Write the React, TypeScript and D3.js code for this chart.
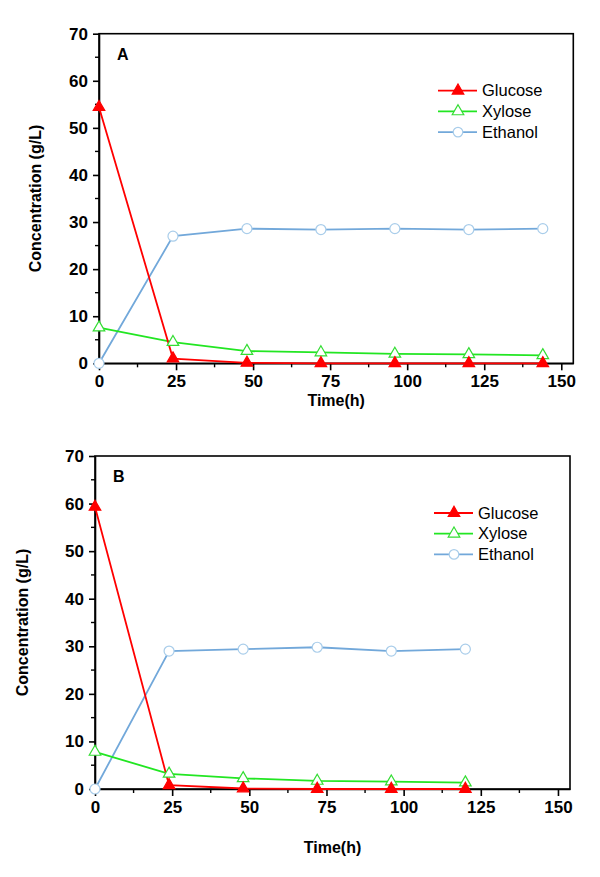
import * as d3 from "d3";
import * as React from "react";

const timeA = [0, 24, 48, 72, 96, 120, 144];
const glucoseA = [54.4, 1.0, 0.1, 0, 0, 0, 0];
const xyloseA = [7.6, 4.5, 2.6, 2.3, 2.0, 1.9, 1.7];
const ethanolA = [0, 27.0, 28.6, 28.4, 28.6, 28.4, 28.6];

const timeB = [0, 24, 48, 72, 96, 120];
const glucoseB = [59.3, 0.8, 0.1, 0, 0, 0];
const xyloseB = [7.8, 3.2, 2.25, 1.7, 1.55, 1.35];
const ethanolB = [0, 29.0, 29.4, 29.8, 29.0, 29.4];

const xTicks = [0, 25, 50, 75, 100, 125, 150];
const yTicks = [0, 10, 20, 30, 40, 50, 60, 70];
const seriesNames = ["Glucose", "Xylose", "Ethanol"];

const FONT = "'Liberation Sans', Arial, sans-serif";

type Box = { left: number; top: number; right: number; bottom: number };

type PanelProps = {
  letter: string;
  box: Box;
  time: number[];
  glucose: number[];
  xylose: number[];
  ethanol: number[];
  xTitleY: number;
  yTitleX: number;
};

function Panel(props: PanelProps) {
  const ref = React.useRef<SVGGElement>(null);

  React.useEffect(() => {
    const { letter, box, time, glucose, xylose, ethanol, xTitleY, yTitleX } = props;
    const g = d3.select(ref.current);
    g.selectAll("*").remove();

    const x = d3.scaleLinear().domain([0, 153.9]).range([box.left, box.right]);
    const y = d3.scaleLinear().domain([0, 70]).range([box.bottom, box.top]);

    // frame
    g.append("rect")
      .attr("x", box.left)
      .attr("y", box.top)
      .attr("width", box.right - box.left)
      .attr("height", box.bottom - box.top)
      .attr("fill", "none")
      .attr("stroke", "#000")
      .attr("stroke-width", 1.6);

    // minor ticks
    const xMinor = d3.range(12.5, 153, 25);
    const yMinor = d3.range(5, 70, 10);
    g.selectAll("line.xminor")
      .data(xMinor)
      .enter()
      .append("line")
      .attr("x1", (d) => x(d))
      .attr("x2", (d) => x(d))
      .attr("y1", box.bottom)
      .attr("y2", box.bottom + 4)
      .attr("stroke", "#000")
      .attr("stroke-width", 1.4);
    g.selectAll("line.yminor")
      .data(yMinor)
      .enter()
      .append("line")
      .attr("x1", box.left - 4)
      .attr("x2", box.left)
      .attr("y1", (d) => y(d))
      .attr("y2", (d) => y(d))
      .attr("stroke", "#000")
      .attr("stroke-width", 1.4);

    const xAxis = g
      .append("g")
      .attr("transform", "translate(0," + box.bottom + ")")
      .call(d3.axisBottom(x).tickValues(xTicks).tickSize(7).tickSizeOuter(0).tickPadding(5));
    const yAxis = g
      .append("g")
      .attr("transform", "translate(" + box.left + ",0)")
      .call(d3.axisLeft(y).tickValues(yTicks).tickSize(6).tickSizeOuter(0).tickPadding(5));

    [xAxis, yAxis].forEach((a) => {
      a.select(".domain").attr("stroke-width", 1.6);
      a.selectAll(".tick line").attr("stroke-width", 1.6);
      a.selectAll(".tick text")
        .attr("font-family", FONT)
        .attr("font-size", 17)
        .attr("font-weight", "bold")
        .attr("fill", "#000");
    });

    // titles
    g.append("text")
      .attr("x", (box.left + box.right) / 2)
      .attr("y", xTitleY)
      .attr("text-anchor", "middle")
      .attr("font-family", FONT)
      .attr("font-size", 16)
      .attr("font-weight", "bold")
      .text("Time(h)");
    g.append("text")
      .attr("transform", "translate(" + yTitleX + "," + (box.top + box.bottom) / 2 + ") rotate(-90)")
      .attr("text-anchor", "middle")
      .attr("dy", "0.35em")
      .attr("font-family", FONT)
      .attr("font-size", 16)
      .attr("font-weight", "bold")
      .text("Concentration (g/L)");
    g.append("text")
      .attr("x", box.left + 18)
      .attr("y", box.top + 26)
      .attr("font-family", FONT)
      .attr("font-size", 16)
      .attr("font-weight", "bold")
      .text(letter);

    const tri = d3.symbol(d3.symbolTriangle, 58);
    const styles = [
      { values: glucose, line: "#ff0000", stroke: "#ff0000", fill: "#ff0000", mark: "tri" },
      { values: xylose, line: "#22e622", stroke: "#33dd33", fill: "#fff", mark: "tri" },
      { values: ethanol, line: "#72a8da", stroke: "#a9cdea", fill: "#fff", mark: "circle" },
    ];

    const line = d3
      .line<number>()
      .x((d, i) => x(time[i]))
      .y((d) => y(d));

    styles
      .slice()
      .reverse()
      .forEach((s) => {
        g.append("path")
          .attr("d", line(s.values))
          .attr("fill", "none")
          .attr("stroke", s.line)
          .attr("stroke-width", 1.8);
      });
    styles
      .slice()
      .reverse()
      .forEach((s) => {
        s.values.forEach((v, i) => {
          if (s.mark === "tri") {
            g.append("path")
              .attr("d", tri())
              .attr("transform", "translate(" + x(time[i]) + "," + y(v) + ")")
              .attr("fill", s.fill)
              .attr("stroke", s.stroke)
              .attr("stroke-width", 1.2);
          } else {
            g.append("circle")
              .attr("cx", x(time[i]))
              .attr("cy", y(v))
              .attr("r", 5)
              .attr("fill", s.fill)
              .attr("stroke", s.stroke)
              .attr("stroke-width", 1.2);
          }
        });
      });

    // legend
    const lx = box.left + 339;
    styles.forEach((s, i) => {
      const ly = box.top + 57 + i * 20.7;
      g.append("line")
        .attr("x1", lx)
        .attr("x2", lx + 39)
        .attr("y1", ly)
        .attr("y2", ly)
        .attr("stroke", s.line)
        .attr("stroke-width", 1.8);
      if (s.mark === "tri") {
        g.append("path")
          .attr("d", tri())
          .attr("transform", "translate(" + (lx + 20) + "," + ly + ")")
          .attr("fill", s.fill)
          .attr("stroke", s.stroke)
          .attr("stroke-width", 1.2);
      } else {
        g.append("circle")
          .attr("cx", lx + 20)
          .attr("cy", ly)
          .attr("r", 4.8)
          .attr("fill", s.fill)
          .attr("stroke", s.stroke)
          .attr("stroke-width", 1.2);
      }
      g.append("text")
        .attr("x", lx + 44)
        .attr("y", ly)
        .attr("dy", "0.35em")
        .attr("font-family", FONT)
        .attr("font-size", 16.5)
        .text(seriesNames[i]);
    });
  });

  return <g ref={ref} />;
}

export default function App() {
  return (
    <svg
      width={600}
      height={877}
      style={{ position: "absolute", left: 0, top: 0, background: "#fff" }}
    >
      <Panel
        letter="A"
        box={{ left: 99, top: 33.7, right: 573.3, bottom: 363.3 }}
        time={timeA}
        glucose={glucoseA}
        xylose={xyloseA}
        ethanol={ethanolA}
        xTitleY={406}
        yTitleX={35}
      />
      <Panel
        letter="B"
        box={{ left: 95, top: 456, right: 570, bottom: 789 }}
        time={timeB}
        glucose={glucoseB}
        xylose={xyloseB}
        ethanol={ethanolB}
        xTitleY={853}
        yTitleX={22}
      />
    </svg>
  );
}
